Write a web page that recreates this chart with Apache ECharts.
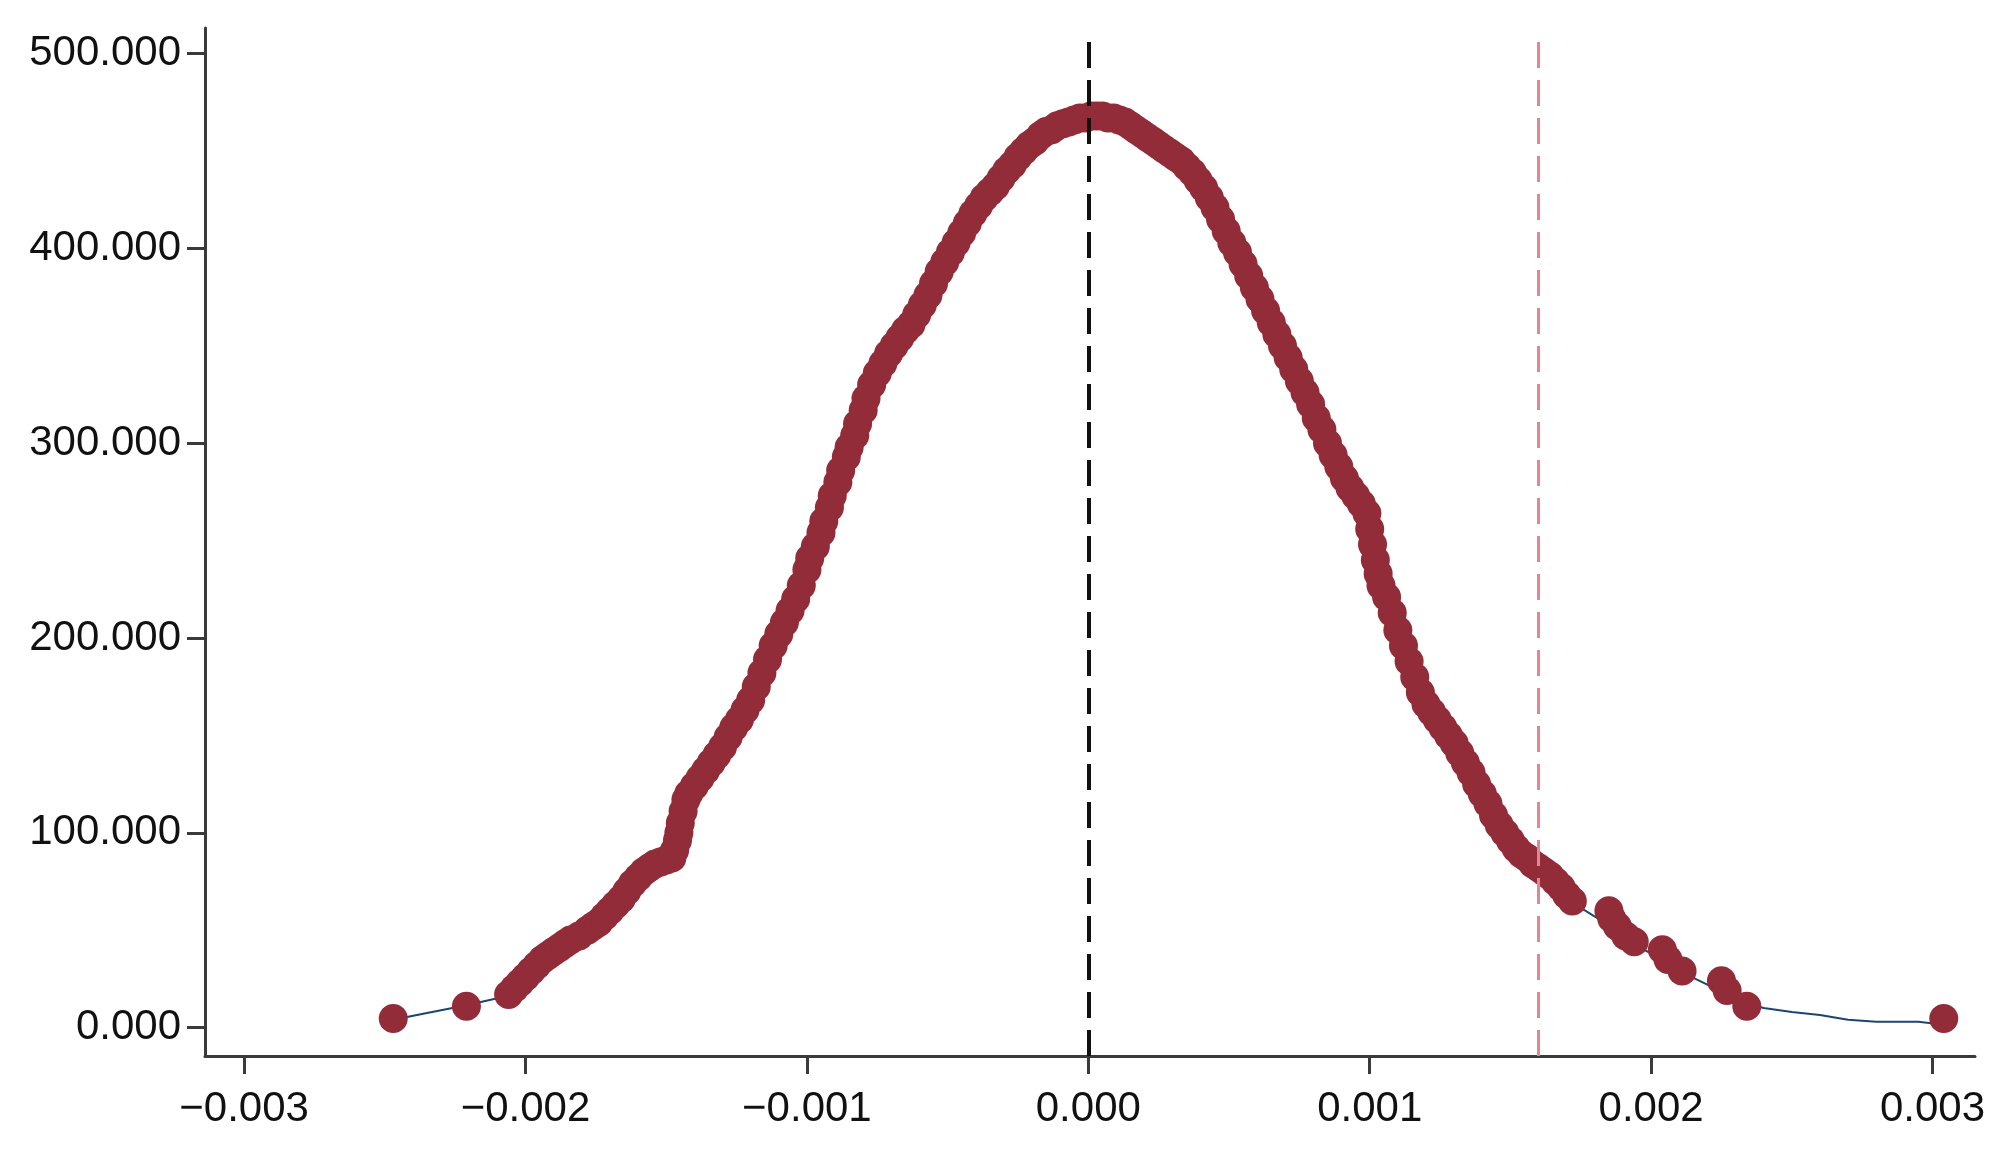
<!DOCTYPE html>
<html>
<head>
<meta charset="utf-8">
<script src="https://cdn.jsdelivr.net/npm/echarts@6/dist/echarts.min.js"></script>
<style>html,body{margin:0;padding:0;background:#fff}#c{width:2004px;height:1150px}</style>
</head>
<body>
<div id="c"></div>
<script>
// Placebo estimates (x, in units of 1e-3) and kernel density at each estimate (y)
const dotX = [-2.47,-2.21,-2.06,-2.04,-2.02,-2.00,-1.98,-1.96,-1.94,-1.92,-1.90,-1.88,-1.86,-1.84,-1.81,-1.78,-1.76,-1.74,-1.72,-1.70,-1.68,-1.66,-1.64,-1.62,-1.60,-1.58,-1.56,-1.54,-1.52,-1.50,-1.48,-1.47,-1.46,-1.455,-1.45,-1.44,-1.43,-1.42,-1.40,-1.38,-1.36,-1.34,-1.32,-1.30,-1.28,-1.26,-1.24,-1.22,-1.20,-1.18,-1.16,-1.14,-1.12,-1.10,-1.08,-1.06,-1.04,-1.02,-1.00,-0.99,-0.97,-0.95,-0.94,-0.92,-0.91,-0.89,-0.88,-0.86,-0.85,-0.83,-0.82,-0.80,-0.79,-0.77,-0.75,-0.73,-0.71,-0.69,-0.67,-0.65,-0.63,-0.61,-0.59,-0.57,-0.55,-0.53,-0.51,-0.49,-0.47,-0.45,-0.43,-0.41,-0.39,-0.37,-0.35,-0.33,-0.31,-0.29,-0.27,-0.25,-0.23,-0.21,-0.19,-0.17,-0.15,-0.13,-0.11,-0.09,-0.07,-0.05,-0.03,-0.01,0.01,0.03,0.05,0.07,0.09,0.11,0.13,0.15,0.17,0.19,0.21,0.23,0.25,0.27,0.29,0.31,0.33,0.35,0.37,0.39,0.41,0.43,0.45,0.47,0.49,0.51,0.53,0.55,0.57,0.59,0.61,0.63,0.65,0.67,0.69,0.71,0.73,0.75,0.77,0.79,0.81,0.83,0.85,0.87,0.89,0.91,0.93,0.95,0.97,0.99,1.00,1.01,1.02,1.03,1.04,1.06,1.08,1.10,1.12,1.14,1.16,1.18,1.20,1.22,1.24,1.26,1.28,1.30,1.32,1.34,1.36,1.38,1.40,1.42,1.44,1.46,1.48,1.50,1.52,1.54,1.56,1.58,1.60,1.62,1.64,1.66,1.68,1.70,1.72,1.85,1.86,1.88,1.91,1.94,2.04,2.06,2.11,2.25,2.27,2.34,3.04];
const dotY = [4.6,11,17,20,23,26,29,32,35,37,39,41,43,45,47,50,52,54,57,60,63,66,70,74,77,80,82,84,85,86,87,91,96,100,105,111,117,120,124,128,132,136,140,144,149,154,158,163,168,175,182,189,196,202,208,214,220,227,235,241,247,254,260,267,273,280,286,293,298,304,310,317,323,330,336,341,346,350,354,358,361,366,371,376,382,388,393,398,403,408,413,418,422,426,429,432,436,440,443,447,450,453,455,458,460,461,463,464,465,466,467,467,468,468,468,467,467,466,465,463,461,459,457,455,453,451,449,447,445,442,439,435,431,426,421,415,409,403,398,392,386,380,374,368,362,356,350,344,338,332,326,320,313,307,300,294,288,282,277,273,269,264,256,248,240,233,227,221,213,204,196,188,180,172,166,162,158,154,150,146,141,136,131,125,120,115,109,104,100,96,92,89,87,84,82,80,78,75,72,68,65,60,56,52,47,44,40,35,29,24,19,11,4.6];
// Kernel density curve
const curveX = [-2.47,-2.35,-2.21,-2.10,-2.00,-1.90,-1.80,-1.70,-1.60,-1.50,-1.45,-1.40,-1.30,-1.20,-1.10,-1.00,-0.90,-0.80,-0.70,-0.60,-0.50,-0.40,-0.30,-0.20,-0.10,0.00,0.10,0.20,0.30,0.40,0.50,0.60,0.70,0.80,0.90,0.98,1.02,1.10,1.20,1.30,1.40,1.50,1.60,1.70,1.80,1.85,1.90,1.95,2.00,2.05,2.10,2.20,2.30,2.40,2.50,2.60,2.70,2.80,2.95,3.04];
const curveY = [4,7.5,11.5,15,24,38,47,59,77,86,105,123,144,168,201,234,276,316,348,368,395,420,438,454,463,467,466,458,448,433,406,377,347,316,285,266,240,204,166,144,118,94,80,66,57,52,47,42,38,34,29,22,14,10,8,6.5,4,3,3,1.5];
const yTicks = [0,100,200,300,400,500];
const xTicks = [-0.003,-0.002,-0.001,0,0.001,0.002,0.003];
const refLines = [0, 0.0016];

const dots = dotX.map((x,i)=>[x/1000, dotY[i]]);
const curve = curveX.map((x,i)=>[x/1000, curveY[i]]);

const FONT = '"Liberation Sans", Arial, sans-serif';
const axisCol = '#3a3a3a';
const chart = echarts.init(document.getElementById('c'), null, {renderer:'canvas'});
chart.setOption({
  animation:false,
  backgroundColor:'#ffffff',
  grid:{left:205, top:28, right:29, bottom:94, containLabel:false},
  xAxis:{
    type:'value', min:-0.003139, max:0.003151,
    splitLine:{show:false},
    axisLine:{show:true, onZero:false, lineStyle:{color:axisCol, width:3}},
    axisTick:{show:true, inside:false, length:18, lineStyle:{color:axisCol, width:3}, customValues:xTicks},
    axisLabel:{show:true, margin:32, fontFamily:FONT, fontSize:42, color:'#111',
      customValues:xTicks,
      formatter:function(v){const s=Math.abs(v).toFixed(3); return v< -1e-9 ? '\u2212'+s : s;}}
  },
  yAxis:{
    type:'value', min:-14.6, max:513.2,
    splitLine:{show:false},
    axisLine:{show:true, onZero:false, lineStyle:{color:axisCol, width:3}},
    axisTick:{show:true, inside:false, length:18, lineStyle:{color:axisCol, width:3}, customValues:yTicks},
    axisLabel:{show:true, margin:24, fontFamily:FONT, fontSize:42, color:'#111',
      customValues:yTicks,
      formatter:function(v){return v.toFixed(3);}}
  },
  series:[
    {type:'line', data:curve, showSymbol:false, symbol:'none', smooth:false,
      lineStyle:{color:'#1a476f', width:2}, z:2,
      markLine:{silent:true, symbol:['none','none'], label:{show:false},
        data:[
          [{coord:[refLines[0],-14.6], lineStyle:{color:'#111', width:4, type:[26,12]}},{coord:[refLines[0],509]}],
          [{coord:[refLines[1],-14.6], lineStyle:{color:'#e3868f', width:3, type:[26,12]}},{coord:[refLines[1],509]}]
        ]}},
    {type:'scatter', data:dots, symbol:'circle', symbolSize:29,
      itemStyle:{color:'#922c38', opacity:1}, z:3}
  ]
});
</script>
</body>
</html>
